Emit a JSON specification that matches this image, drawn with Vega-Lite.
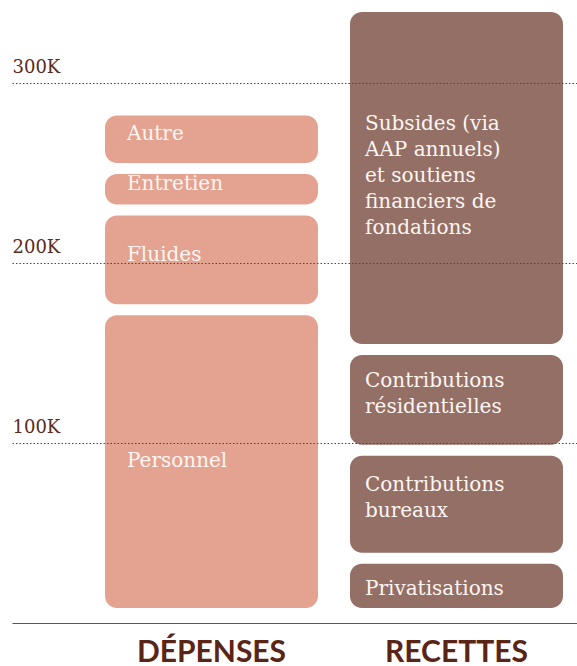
{
  "$schema": "https://vega.github.io/schema/vega-lite/v6.json",
  "width": 565,
  "height": 623,
  "autosize": {"type": "none"},
  "padding": {"left": 12, "top": 0, "right": 0, "bottom": 43},
  "background": "white",
  "config": {"view": {"stroke": null}},
  "data": {
    "values": [
      {"side": "DÉPENSES", "order": 1, "label": "Personnel", "value": 174000},
      {"side": "DÉPENSES", "order": 2, "label": "Fluides", "value": 55500},
      {"side": "DÉPENSES", "order": 3, "label": "Entretien", "value": 23000},
      {"side": "DÉPENSES", "order": 4, "label": "Autre", "value": 32500},
      {"side": "RECETTES", "order": 1, "label": "Privatisations", "value": 36000},
      {"side": "RECETTES", "order": 2, "label": "Contributions\nbureaux", "value": 60000},
      {"side": "RECETTES", "order": 3, "label": "Contributions\nrésidentielles", "value": 56000},
      {"side": "RECETTES", "order": 4, "label": "Subsides (via\nAAP annuels)\net soutiens\nfinanciers de\nfondations", "value": 190500}
    ]
  },
  "transform": [
    {"stack": "value", "groupby": ["side"], "sort": [{"field": "order", "order": "ascending"}], "as": ["y0", "y1"]},
    {"calculate": "(datum.y0 + datum.y1) / 2", "as": "mid"},
    {"calculate": "length(split(datum.label, '\\n'))", "as": "nlines"}
  ],
  "layer": [
    {
      "transform": [{"filter": "datum.order > 1"}],
      "mark": {"type": "bar", "cornerRadius": 12, "yOffset": 5.5, "y2Offset": -5.5},
      "encoding": {
        "x": {
          "field": "side", "type": "nominal",
          "scale": {"paddingInner": 0.1306, "paddingOuter": 0.2184, "align": 0.869},
          "axis": {
            "orient": "bottom", "domain": true, "domainColor": "#7b4b3d", "domainWidth": 1.2,
            "ticks": false, "tickSize": 0, "labelPadding": 38, "labelBaseline": "alphabetic",
            "labelFont": "Lato", "labelFontSize": 30, "labelFontWeight": "bold",
            "labelColor": "#5a2416", "labelAngle": 0, "title": null, "grid": false
          }
        },
        "y": {
          "field": "y1", "type": "quantitative",
          "scale": {"domain": [0, 346111], "nice": false, "zero": true},
          "axis": {
            "values": [100000, 200000, 300000],
            "labelExpr": "(datum.value / 1000) + 'K'",
            "orient": "left", "domain": false, "ticks": false, "tickSize": 0,
            "labelAlign": "left", "labelBaseline": "alphabetic", "labelPadding": 0,
            "labelOffset": -10, "labelFont": "DejaVu Serif", "labelFontSize": 18,
            "labelColor": "#5b2a1c", "grid": true, "gridColor": "#6b3a2c",
            "gridDash": [1.5, 2], "gridWidth": 1, "title": null, "zindex": 1
          }
        },
        "y2": {"field": "y0"},
        "color": {
          "field": "side", "type": "nominal",
          "scale": {"domain": ["DÉPENSES", "RECETTES"], "range": ["#e4a391", "#946f65"]},
          "legend": null
        }
      }
    },
    {
      "transform": [{"filter": "datum.order == 1"}],
      "mark": {"type": "bar", "cornerRadius": 12, "yOffset": 5.5, "y2Offset": -15},
      "encoding": {
        "x": {"field": "side", "type": "nominal"},
        "y": {"field": "y1", "type": "quantitative"},
        "y2": {"field": "y0"},
        "color": {"field": "side", "type": "nominal", "legend": null}
      }
    },
    {
      "transform": [{"filter": "datum.side == 'DÉPENSES'"}],
      "mark": {"type": "text", "align": "left", "baseline": "middle", "dx": 22, "dy": -5,
               "font": "DejaVu Serif", "fontSize": 20, "color": "#fdf6f2",
               "lineHeight": 26, "lineBreak": "\n"},
      "encoding": {
        "x": {"field": "side", "type": "nominal", "bandPosition": 0},
        "y": {"field": "mid", "type": "quantitative"},
        "text": {"field": "label"}
      }
    },
    {
      "transform": [{"filter": "datum.side == 'RECETTES' && datum.nlines == 1"}],
      "mark": {"type": "text", "align": "left", "baseline": "middle", "dx": 15, "dy": -2,
               "font": "DejaVu Serif", "fontSize": 20, "color": "#fdf6f2",
               "lineHeight": 26, "lineBreak": "\n"},
      "encoding": {
        "x": {"field": "side", "type": "nominal", "bandPosition": 0},
        "y": {"field": "mid", "type": "quantitative"},
        "text": {"field": "label"}
      }
    },
    {
      "transform": [{"filter": "datum.side == 'RECETTES' && datum.nlines == 2"}],
      "mark": {"type": "text", "align": "left", "baseline": "middle", "dx": 15, "dy": -19,
               "font": "DejaVu Serif", "fontSize": 20, "color": "#fdf6f2",
               "lineHeight": 26, "lineBreak": "\n"},
      "encoding": {
        "x": {"field": "side", "type": "nominal", "bandPosition": 0},
        "y": {"field": "mid", "type": "quantitative"},
        "text": {"field": "label"}
      }
    },
    {
      "transform": [{"filter": "datum.side == 'RECETTES' && datum.nlines > 2"}],
      "mark": {"type": "text", "align": "left", "baseline": "middle", "dx": 15, "dy": -54,
               "font": "DejaVu Serif", "fontSize": 20, "color": "#fdf6f2",
               "lineHeight": 26, "lineBreak": "\n"},
      "encoding": {
        "x": {"field": "side", "type": "nominal", "bandPosition": 0},
        "y": {"field": "mid", "type": "quantitative"},
        "text": {"field": "label"}
      }
    }
  ]
}
